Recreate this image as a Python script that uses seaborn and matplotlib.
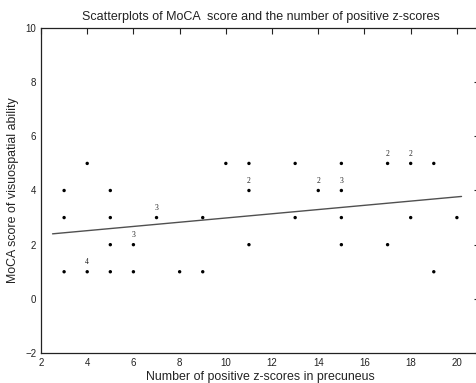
import matplotlib
matplotlib.use("Agg")
import matplotlib.pyplot as plt
import seaborn as sns
import pandas as pd

# data
x_vals = [3, 3, 3, 4, 4, 5, 5, 5, 5, 6, 6, 7, 8, 9, 9, 10,
          11, 11, 11, 13, 13, 14, 15, 15, 15, 15, 17, 17, 18, 18, 19, 19, 20]
y_vals = [4, 3, 1, 5, 1, 4, 3, 2, 1, 2, 1, 3, 1, 3, 1, 5,
          5, 4, 2, 5, 3, 4, 5, 4, 3, 2, 5, 2, 5, 3, 5, 1, 3]

count_x = [4, 6, 7, 11, 14, 15, 17, 18]
count_y = [1, 2, 3, 4, 4, 4, 5, 5]
count_labels = ["4", "3", "3", "2", "2", "3", "2", "2"]

fit_x = [2.5, 20.2]
fit_y = [2.40, 3.78]

x_ticks = [2, 4, 6, 8, 10, 12, 14, 16, 18, 20]
y_ticks = [-2, 0, 2, 4, 6, 8, 10]

title = "Scatterplots of MoCA  score and the number of positive z-scores"
xlabel = "Number of positive z-scores in precuneus"
ylabel = "MoCA score of visuospatial ability"

sns.set_style("white")
plt.rcParams["font.family"] = ["Liberation Sans", "DejaVu Sans"]

fig = plt.figure(figsize=(4.77, 3.83), dpi=100)
W, H = 477, 383
ax = fig.add_axes([41 / W, 30 / H, 439 / W, 325 / H])

df = pd.DataFrame({"x": x_vals, "y": y_vals})
sns.scatterplot(data=df, x="x", y="y", ax=ax, color="black", s=6,
                marker="o", edgecolor="none", zorder=3)
sns.lineplot(x=fit_x, y=fit_y, ax=ax, color="#505050", linewidth=1.0)

for cx, cy, lab in zip(count_x, count_y, count_labels):
    ax.annotate(lab, (cx, cy), xytext=(0, 4), textcoords="offset points",
                ha="center", va="bottom", fontsize=5.5, color="#222222",
                family=["Liberation Serif", "DejaVu Serif"])

ax.set_xlim(2, 21)
ax.set_ylim(-2, 10)
ax.set_xticks(x_ticks)
ax.set_yticks(y_ticks)
ax.tick_params(direction="in", length=4, width=0.8, labelsize=7,
               top=True, right=True, colors="#222222", labelcolor="#222222")
for sp in ax.spines.values():
    sp.set_color("#222222")
    sp.set_linewidth(0.9)

ax.set_title(title, fontsize=9, color="#222222", pad=6)
ax.set_xlabel(xlabel, fontsize=8.9, color="#222222", labelpad=2)
ax.set_ylabel(ylabel, fontsize=8.9, color="#222222", labelpad=4)

fig.savefig("out.png", dpi=100)
